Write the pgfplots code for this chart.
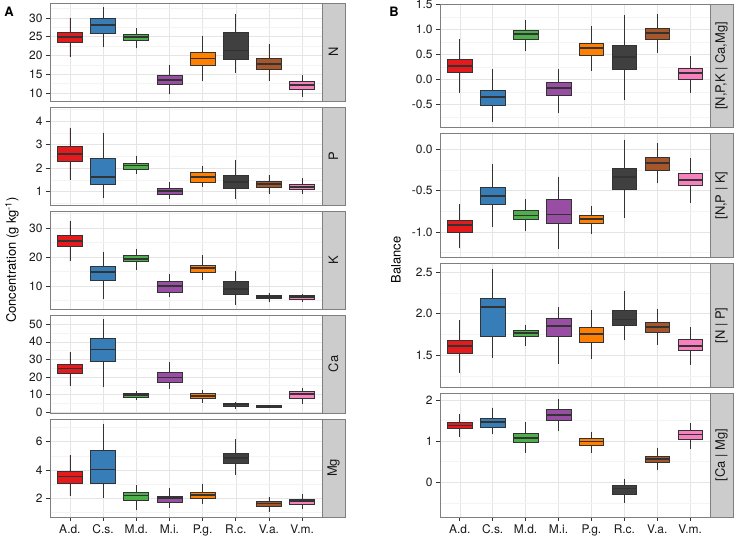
\documentclass[border=0pt]{standalone}
\usepackage{pgfplots}
\pgfplotsset{compat=1.18}
\usepackage{pgfplotstable}
\usepgfplotslibrary{statistics}
\usepackage{fontspec}
\setmainfont{TeX Gyre Heros}

\definecolor{c0}{HTML}{E41A1C}
\definecolor{c1}{HTML}{377EB8}
\definecolor{c2}{HTML}{4DAF4A}
\definecolor{c3}{HTML}{984EA3}
\definecolor{c4}{HTML}{FF7F00}
\definecolor{c5}{HTML}{404040}
\definecolor{c6}{HTML}{A65628}
\definecolor{c7}{HTML}{F781BF}
\definecolor{edge}{HTML}{333333}
\definecolor{frame}{HTML}{7F7F7F}
\definecolor{stripg}{HTML}{CCCCCC}
\definecolor{gmaj}{HTML}{E5E5E5}
\definecolor{gmin}{HTML}{F4F4F4}

% lw lq med uq uw, rows: A.d. C.s. M.d. M.i. P.g. R.c. V.a. V.m.
\pgfplotstableread{
lw lq med uq uw
19.6 23.5 24.9 26.3 30.0
22.2 25.9 28.2 29.8 32.8
21.9 24.0 24.9 25.7 27.3
9.8 12.2 13.5 14.7 17.5
13.1 17.4 19.2 20.9 25.3
15.3 18.9 21.3 26.1 31.0
13.1 16.3 17.7 19.1 23.1
8.9 11.0 12.1 13.0 14.9
}\tN
\pgfplotstableread{
lw lq med uq uw
1.50 2.29 2.60 2.93 3.73
0.71 1.30 1.64 2.41 3.51
1.77 1.97 2.11 2.21 2.51
0.70 0.90 1.01 1.13 1.41
1.21 1.41 1.61 1.83 2.11
0.69 1.14 1.41 1.69 2.34
0.91 1.20 1.33 1.43 1.71
0.91 1.10 1.21 1.33 1.60
}\tP
\pgfplotstableread{
lw lq med uq uw
18.5 23.6 25.6 27.5 32.4
5.5 12.1 14.9 16.7 21.9
15.7 18.4 19.4 20.5 22.9
6.1 7.7 9.9 11.7 14.0
12.1 14.7 16.2 17.2 20.6
3.6 7.1 9.0 11.5 15.3
4.5 5.6 6.2 6.7 7.6
4.5 5.5 6.2 6.7 7.4
}\tK
\pgfplotstableread{
lw lq med uq uw
15.0 22.1 24.8 27.4 34.2
14.3 28.6 35.6 41.7 52.9
6.9 8.6 9.8 10.6 12.1
13.3 17.1 19.6 22.3 28.6
5.1 7.8 9.3 10.4 12.7
1.9 3.0 4.2 4.8 5.5
2.5 2.9 3.4 3.8 4.2
4.6 7.8 10.1 11.6 13.9
}\tCa
\pgfplotstableread{
lw lq med uq uw
2.17 3.07 3.52 3.90 5.07
2.02 3.02 4.02 5.36 7.29
1.12 1.86 2.17 2.36 2.93
1.31 1.69 1.98 2.12 2.69
1.60 1.98 2.19 2.43 2.98
3.64 4.45 4.83 5.19 6.17
1.00 1.38 1.60 1.74 2.07
1.19 1.57 1.76 1.93 2.29
}\tMg
\pgfplotstableread{
lw lq med uq uw
-0.27 0.13 0.27 0.40 0.80
-0.85 -0.52 -0.35 -0.22 0.20
0.57 0.81 0.91 0.98 1.18
-0.67 -0.33 -0.18 -0.06 0.20
0.17 0.49 0.62 0.73 1.06
-0.41 0.21 0.45 0.69 1.28
0.53 0.81 0.93 1.03 1.31
-0.27 -0.01 0.13 0.22 0.46
}\tA
\pgfplotstableread{
lw lq med uq uw
-1.20 -1.00 -0.92 -0.855 -0.66
-0.94 -0.67 -0.56 -0.46 -0.18
-0.99 -0.85 -0.80 -0.74 -0.60
-1.21 -0.90 -0.79 -0.60 -0.33
-1.02 -0.90 -0.84 -0.80 -0.68
-0.83 -0.48 -0.33 -0.23 0.12
-0.41 -0.25 -0.16 -0.10 0.08
-0.65 -0.44 -0.37 -0.29 -0.11
}\tB
\pgfplotstableread{
lw lq med uq uw
1.29 1.52 1.61 1.68 1.92
1.47 1.73 2.08 2.18 2.53
1.61 1.73 1.77 1.80 1.87
1.40 1.73 1.85 1.94 2.08
1.46 1.66 1.76 1.84 2.04
1.68 1.86 1.93 2.04 2.27
1.63 1.78 1.84 1.90 2.06
1.39 1.56 1.61 1.69 1.84
}\tC
\pgfplotstableread{
lw lq med uq uw
1.11 1.31 1.38 1.46 1.66
1.16 1.34 1.46 1.55 1.81
0.72 0.97 1.07 1.19 1.46
1.25 1.50 1.63 1.76 2.03
0.72 0.89 0.99 1.07 1.22
-0.51 -0.28 -0.15 -0.07 0.09
0.29 0.49 0.57 0.64 0.84
0.80 1.04 1.16 1.26 1.44
}\tD

\pgfplotsset{
  pan/.style={
    scale only axis, xmin=0.4, xmax=8.6, xtick={1,...,8},
    grid=both, major grid style={gmaj, line width=0.5pt},
    minor grid style={gmin, line width=0.5pt},
    axis line style={frame, line width=0.7pt},
    tick align=outside, major tick length=4bp, minor tick length=0pt,
    xtick pos=left, ytick pos=left,
    tick style={edge, line width=0.6pt},
    tick label style={font=\fontsize{12}{12}\selectfont, text=black!90},
    boxplot/draw direction=y,
    boxplot/box extend=0.75, boxplot/whisker extend=0,
  },
  lp/.style={pan, width=272bp, height=98bp},
  rp/.style={pan, width=270bp, height=123.75bp},
  upper/.style={xticklabels={}, xtick style={draw=none}},
  lower/.style={xticklabels={A.d.,C.s.,M.d.,M.i.,P.g.,R.c.,V.a.,V.m.}},
  bx/.style={draw=edge, line width=0.7pt,
    boxplot/every median/.style={draw=edge, line width=1.8pt}},
}

% one box per table row, values taken from the table
\newcommand{\boxes}[1]{%
  \pgfplotsinvokeforeach{0,...,7}{%
    \pgfplotstablegetelem{##1}{lw}\of{#1}\let\bLW\pgfplotsretval
    \pgfplotstablegetelem{##1}{lq}\of{#1}\let\bLQ\pgfplotsretval
    \pgfplotstablegetelem{##1}{med}\of{#1}\let\bMD\pgfplotsretval
    \pgfplotstablegetelem{##1}{uq}\of{#1}\let\bUQ\pgfplotsretval
    \pgfplotstablegetelem{##1}{uw}\of{#1}\let\bUW\pgfplotsretval
    \edef\tmp{\noexpand\addplot[bx, fill=c##1,
      boxplot prepared={draw position=##1+1,
        lower whisker=\bLW, lower quartile=\bLQ, median=\bMD,
        upper quartile=\bUQ, upper whisker=\bUW,
        every median/.style={draw=edge, line width=1.8pt}}] coordinates {};}%
    \tmp
  }%
}
\newcommand{\strip}[5]{%
  \draw[fill=stripg, draw=frame, line width=0.7pt] (#1,#2) rectangle (#3,#4);
  \node[rotate=90, font=\fontsize{13}{13}\selectfont, text=black!90] at ({(#1+#3)/2},{(#2+#4)/2}) {#5};
}

\begin{document}
\begin{tikzpicture}[x=1bp, y=1bp]
\useasboundingbox (0,0) rectangle (734,541);

% left column
\begin{axis}[lp, upper, at={(50bp,440bp)}, ymin=7.86, ymax=34,
  ytick={10,15,20,25,30}, yticklabels={10,15,20,25,30},
  minor ytick={12.5,17.5,22.5,27.5,32.5}]
\boxes{\tN}
\end{axis}
\begin{axis}[lp, upper, at={(50bp,336bp)}, ymin=0.43, ymax=4.61,
  ytick={1,2,3,4}, yticklabels={1,2,3,4},
  minor ytick={0.5,1.5,2.5,3.5,4.5}]
\boxes{\tP}
\end{axis}
\begin{axis}[lp, upper, at={(50bp,232bp)}, ymin=2.09, ymax=35.9,
  ytick={10,20,30}, yticklabels={10,20,30},
  minor ytick={5,15,25,35}]
\boxes{\tK}
\end{axis}
\begin{axis}[lp, upper, at={(50bp,128bp)}, ymin=-0.6, ymax=55.3,
  ytick={0,10,20,30,40,50}, yticklabels={0,10,20,30,40,50},
  minor ytick={5,15,25,35,45,55}]
\boxes{\tCa}
\end{axis}
\begin{axis}[lp, lower, at={(50bp,24bp)}, ymin=0.64, ymax=7.62,
  ytick={2,4,6}, yticklabels={2,4,6},
  minor ytick={1,3,5,7}]
\boxes{\tMg}
\end{axis}

% right column
\begin{axis}[rp, upper, at={(440bp,413.25bp)}, ymin=-0.97, ymax=1.51,
  ytick={-0.5,0,0.5,1,1.5}, yticklabels={-0.5,0.0,0.5,1.0,1.5},
  minor ytick={-0.75,-0.25,0.25,0.75,1.25}]
\boxes{\tA}
\end{axis}
\begin{axis}[rp, upper, at={(440bp,283.5bp)}, ymin=-1.31, ymax=0.19,
  ytick={-1,-0.5,0}, yticklabels={-1.0,-0.5,0.0},
  minor ytick={-1.25,-0.75,-0.25}]
\boxes{\tB}
\end{axis}
\begin{axis}[rp, upper, at={(440bp,153.75bp)}, ymin=1.12, ymax=2.6,
  ytick={1.5,2,2.5}, yticklabels={1.5,2.0,2.5},
  minor ytick={1.25,1.75,2.25}]
\boxes{\tC}
\end{axis}
\begin{axis}[rp, lower, at={(440bp,24bp)}, ymin=-0.84, ymax=2.16,
  ytick={0,1,2}, yticklabels={0,1,2},
  minor ytick={-0.5,0.5,1.5}]
\boxes{\tD}
\end{axis}

% facet strips
\strip{322}{440}{345}{538}{N}
\strip{322}{336}{345}{434}{P}
\strip{322}{232}{345}{330}{K}
\strip{322}{128}{345}{226}{Ca}
\strip{322}{24}{345}{122}{Mg}
\strip{710}{413.25}{733}{537}{[N,P,K | Ca,Mg]}
\strip{710}{283.5}{733}{407.25}{[N,P | K]}
\strip{710}{153.75}{733}{277.5}{[N | P]}
\strip{710}{24}{733}{147.75}{[Ca | Mg]}

% titles
\node[rotate=90, font=\fontsize{13}{13}\selectfont] at (12,281) {Concentration (g kg\textsuperscript{-1})};
\node[rotate=90, font=\fontsize{13}{13}\selectfont] at (396,281) {Balance};
\node[font=\bfseries\fontsize{13}{13}\selectfont] at (9,529) {A};
\node[font=\bfseries\fontsize{13}{13}\selectfont] at (394,529) {B};
\end{tikzpicture}
\end{document}
